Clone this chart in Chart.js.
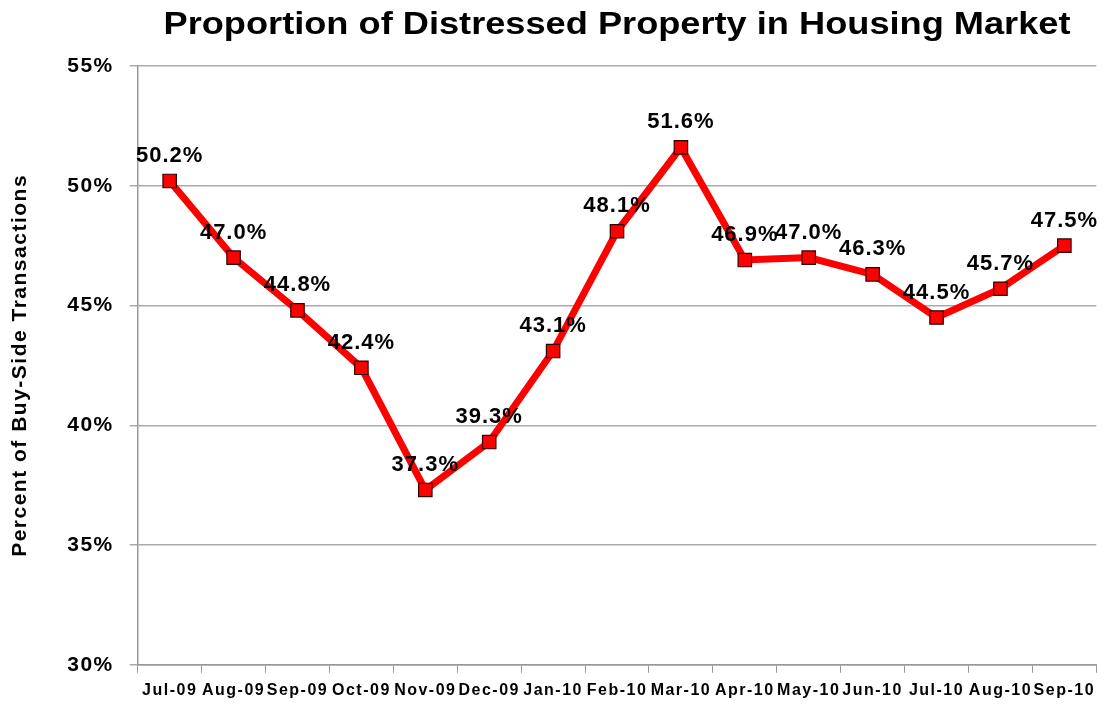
<!DOCTYPE html>
<html lang="en">
<head>
    <meta charset="UTF-8">
    <title>Proportion of Distressed Property in Housing Market</title>
    <script src="https://cdn.jsdelivr.net/npm/chart.js"></script>
    <style>
        body {
            margin: 0;
            background-color: #ffffff;
        }
    </style>
</head>
<body>
    <canvas id="distressChart" width="1107" height="708"></canvas>

    <script>
        // months and share of distressed sales (%)
        const months = ['Jul-09', 'Aug-09', 'Sep-09', 'Oct-09', 'Nov-09', 'Dec-09', 'Jan-10',
            'Feb-10', 'Mar-10', 'Apr-10', 'May-10', 'Jun-10', 'Jul-10', 'Aug-10', 'Sep-10'];
        const distressedShare = [50.2, 47.0, 44.8, 42.4, 37.3, 39.3, 43.1, 48.1, 51.6, 46.9, 47.0, 46.3, 44.5, 45.7, 47.5];
        const yTicks = [30, 35, 40, 45, 50, 55];
        const chartTitle = 'Proportion of Distressed Property in Housing Market';

        const FONT = '"Liberation Sans", Arial, sans-serif';

        // the original text is a bit wider than Liberation, so space the letters out
        const spacing = {
            id: 'spacing',
            beforeLayout(chart) { chart.ctx.letterSpacing = '1.5px'; },
            beforeDraw(chart) { chart.ctx.letterSpacing = '1.5px'; }
        };

        // values above the points + the title
        const valueLabels = {
            id: 'valueLabels',
            afterDatasetsDraw(chart) {
                const ctx = chart.ctx;
                const meta = chart.getDatasetMeta(0);
                ctx.save();
                ctx.letterSpacing = '1px';
                ctx.font = 'bold 22px ' + FONT;
                ctx.fillStyle = '#000';
                ctx.textAlign = 'center';
                ctx.textBaseline = 'middle';
                meta.data.forEach((pt, i) => {
                    ctx.fillText(distressedShare[i].toFixed(1) + '%', pt.x, pt.y - 25);
                });
                ctx.restore();
            },
            afterDraw(chart) {
                const ctx = chart.ctx;
                const area = chart.chartArea;
                ctx.save();
                ctx.letterSpacing = '0px';
                ctx.font = 'bold 31px ' + FONT;
                ctx.fillStyle = '#000';
                ctx.textAlign = 'center';
                ctx.textBaseline = 'middle';
                // title glyphs in the source are stretched sideways
                const sx = 907 / ctx.measureText(chartTitle).width;
                ctx.translate((area.left + area.right) / 2, 25);
                ctx.scale(sx, 1);
                ctx.fillText(chartTitle, 0, 0);
                ctx.restore();
            }
        };

        new Chart(document.getElementById('distressChart').getContext('2d'), {
            type: 'line',
            data: {
                labels: months,
                datasets: [{
                    data: distressedShare,
                    borderColor: '#ff0000',
                    borderWidth: 7,
                    tension: 0,
                    pointStyle: 'rect',
                    pointRadius: 9.5,
                    pointHoverRadius: 9.5,
                    pointBackgroundColor: '#ff0000',
                    pointBorderColor: '#330000',
                    pointBorderWidth: 1.2
                }]
            },
            options: {
                responsive: false,
                animation: false,
                layout: { padding: { left: 8, right: 0, top: 66, bottom: 0 } },
                plugins: {
                    legend: { display: false },
                    tooltip: { enabled: false },
                    title: { display: false }
                },
                scales: {
                    x: {
                        offset: true,
                        border: { color: '#999', width: 1.5 },
                        grid: { offset: true, drawOnChartArea: false, drawTicks: true, tickLength: 8, color: '#999' },
                        ticks: {
                            color: '#000',
                            maxRotation: 0,
                            autoSkip: false,
                            padding: 8,
                            font: { family: FONT, size: 16, weight: 'bold' }
                        }
                    },
                    y: {
                        min: 30,
                        max: 55,
                        afterBuildTicks(axis) {
                            axis.ticks = yTicks.map(v => ({ value: v }));
                        },
                        border: { color: '#999', width: 1.5 },
                        grid: { color: '#aaa', lineWidth: 1.5, tickLength: 8 },
                        ticks: {
                            color: '#000',
                            padding: 16,
                            callback: v => v + '%',
                            font: { family: FONT, size: 21, weight: 'bold' }
                        },
                        title: {
                            display: true,
                            text: 'Percent of Buy-Side Transactions',
                            color: '#000',
                            padding: { top: 0, bottom: 18 },
                            font: { family: FONT, size: 21, weight: 'bold' }
                        }
                    }
                }
            },
            plugins: [spacing, valueLabels]
        });
    </script>
</body>
</html>
